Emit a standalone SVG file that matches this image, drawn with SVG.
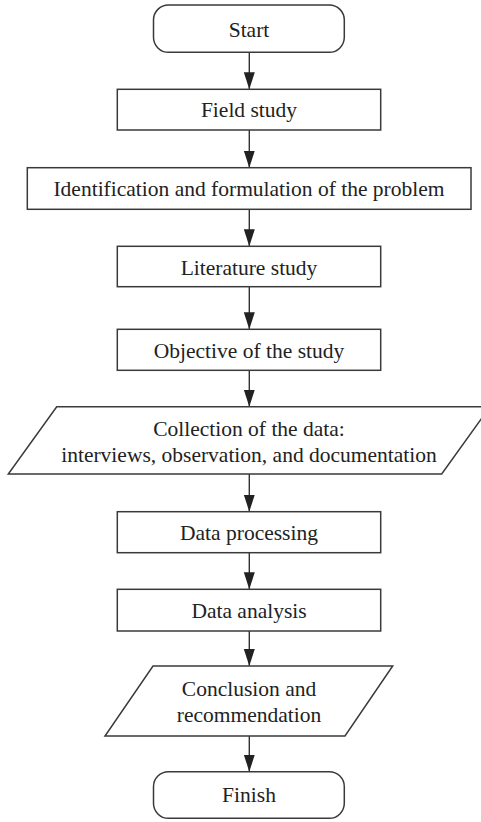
<svg xmlns="http://www.w3.org/2000/svg" width="481" height="822" viewBox="0 0 481 822">
<style>
.shape{fill:#fff;stroke:#3a3a3a;stroke-width:1.5}
.conn{stroke:#333;stroke-width:1.4;fill:none}
text{font-family:"Liberation Serif","Times New Roman",serif;font-size:21.5px;fill:#222;text-anchor:middle}
</style>
<defs>
<marker id="ah" markerUnits="userSpaceOnUse" markerWidth="17" markerHeight="12" viewBox="0 0 17 12" refX="17" refY="6" orient="auto">
<path d="M0,0.5 L17,6 L0,11.5 z" fill="#222"/>
</marker>
</defs>
<rect width="481" height="822" fill="#fff"/>
<g id="connectors">
<line class="conn" x1="249.3" y1="52.3" x2="249.3" y2="89.3" marker-end="url(#ah)"/>
<line class="conn" x1="249.3" y1="130" x2="249.3" y2="167.7" marker-end="url(#ah)"/>
<line class="conn" x1="249.3" y1="209.3" x2="249.3" y2="246.3" marker-end="url(#ah)"/>
<line class="conn" x1="249.3" y1="286.7" x2="249.3" y2="329.3" marker-end="url(#ah)"/>
<line class="conn" x1="249.3" y1="370.3" x2="249.3" y2="406.7" marker-end="url(#ah)"/>
<line class="conn" x1="249.3" y1="474" x2="249.3" y2="511.7" marker-end="url(#ah)"/>
<line class="conn" x1="249.3" y1="552.7" x2="249.3" y2="589.3" marker-end="url(#ah)"/>
<line class="conn" x1="249.3" y1="631" x2="249.3" y2="666" marker-end="url(#ah)"/>
<line class="conn" x1="249.3" y1="736" x2="249.3" y2="771.7" marker-end="url(#ah)"/>
</g>
<g id="start">
<rect class="shape" x="153.5" y="5" width="190.8" height="47.3" rx="15"/>
<text x="249" y="36.5">Start</text>
</g>
<g id="field-study">
<rect class="shape" x="117.3" y="89.3" width="263.4" height="40.7"/>
<text x="249" y="117">Field study</text>
</g>
<g id="identification">
<rect class="shape" x="27.3" y="167.7" width="443.7" height="41.6"/>
<text x="249" y="196">Identification and formulation of the problem</text>
</g>
<g id="literature">
<rect class="shape" x="117.3" y="246.3" width="263.4" height="40.4"/>
<text x="249" y="275">Literature study</text>
</g>
<g id="objective">
<rect class="shape" x="117.3" y="329.3" width="263.4" height="41"/>
<text x="249" y="358">Objective of the study</text>
</g>
<g id="collection">
<polygon class="shape" points="56.7,406.7 490,406.7 441.7,474 8.3,474"/>
<text x="249" y="436">Collection of the data:</text>
<text x="249" y="462">interviews, observation, and documentation</text>
</g>
<g id="processing">
<rect class="shape" x="117.3" y="511.7" width="263.4" height="41"/>
<text x="249" y="540">Data processing</text>
</g>
<g id="analysis">
<rect class="shape" x="117.3" y="589.3" width="263.4" height="41.7"/>
<text x="249" y="617.5">Data analysis</text>
</g>
<g id="conclusion">
<polygon class="shape" points="153,666 392.7,666 345,736 105,736"/>
<text x="249" y="696">Conclusion and</text>
<text x="249" y="721.7">recommendation</text>
</g>
<g id="finish">
<rect class="shape" x="153.5" y="771.7" width="190.8" height="46.6" rx="15"/>
<text x="249" y="802">Finish</text>
</g>
</svg>
